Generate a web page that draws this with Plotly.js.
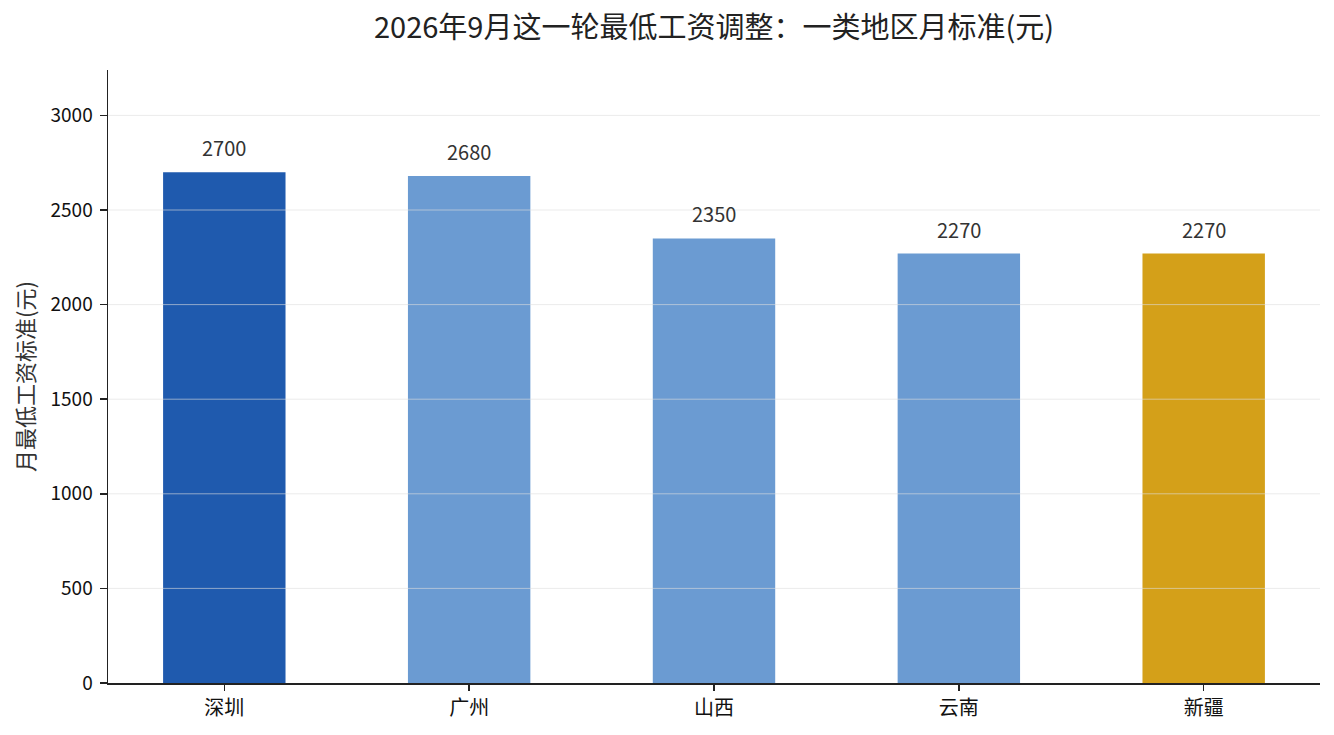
<html>
<head>
<meta charset="utf-8">
<script src="https://cdn.plot.ly/plotly-3.0.1.min.js"></script>
</head>
<body style="margin:0">
<div id="chart" style="width:1334px;height:735px"></div>
<script>
// regions and their category-1 monthly minimum wage (yuan)
var regions = ["深圳", "广州", "山西", "云南", "新疆"];
var wages = [2700, 2680, 2350, 2270, 2270];
var barColors = ["#1f5aae", "#6b9bd2", "#6b9bd2", "#6b9bd2", "#d4a019"];
var yTicks = [0, 500, 1000, 1500, 2000, 2500, 3000];

var font = "Noto Sans CJK SC, Noto Sans, sans-serif";

var bars = {
  type: "bar", x: regions, y: wages, width: 0.5,
  marker: {color: barColors, line: {width: 0}},
  hoverinfo: "x+y", showlegend: false
};

// value labels above the bars
var labels = regions.map(function (r, i) {
  return {x: r, y: wages[i], text: String(wages[i]), showarrow: false,
    yanchor: "bottom", yshift: 8, font: {family: font, size: 20, color: "#333333"}};
});

// grid drawn over the bars, like the original
var grid = yTicks.slice(1).map(function (v) {
  return {type: "line", layer: "above", xref: "paper", x0: 0, x1: 1, yref: "y", y0: v, y1: v,
    line: {color: "rgba(222,222,222,0.6)", width: 1}};
});

var layout = {
  width: 1334, height: 735,
  margin: {l: 108, r: 14, t: 70, b: 52},
  paper_bgcolor: "#ffffff", plot_bgcolor: "#ffffff",
  font: {family: font, color: "#222222"},
  title: {text: "2026年9月这一轮最低工资调整：一类地区月标准(元)",
    xref: "paper", x: 0.5, xanchor: "center", y: 0.962, yanchor: "middle",
    font: {family: font, size: 29, color: "#222222"}},
  xaxis: {range: [-0.475, 4.475], showline: true, linecolor: "#222222", linewidth: 1.5,
    ticks: "outside", ticklen: 6, tickwidth: 1.5, tickcolor: "#222222",
    tickfont: {family: font, size: 20, color: "#111111"}, showgrid: false, zeroline: false},
  yaxis: {range: [0, 3240], tickvals: yTicks, showline: true, linecolor: "#222222", linewidth: 1.5,
    ticks: "outside", ticklen: 7, tickwidth: 1.5, tickcolor: "#222222", ticklabelstandoff: 3,
    tickfont: {family: font, size: 19, color: "#111111"}, showgrid: false, zeroline: false,
    title: {text: "月最低工资标准(元)", standoff: 10, font: {family: font, size: 22, color: "#333333"}}},
  annotations: labels,
  shapes: grid,
  bargap: 0.5
};

Plotly.newPlot("chart", [bars], layout, {displayModeBar: false, staticPlot: true});
</script>
</body>
</html>
